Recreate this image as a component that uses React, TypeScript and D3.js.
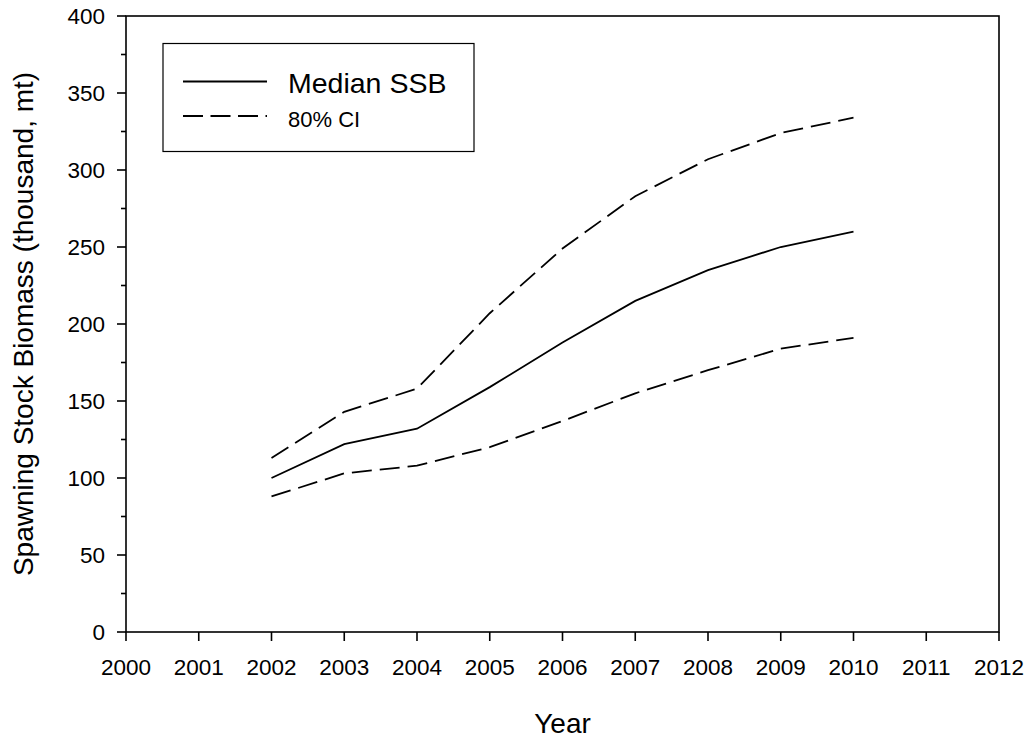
import React, { useEffect, useRef } from 'react';
import * as d3 from 'd3';

const years = [2002, 2003, 2004, 2005, 2006, 2007, 2008, 2009, 2010];
const medianSSB = [100, 122, 132, 159, 188, 215, 235, 250, 260];
const upperCI = [113, 143, 158, 207, 249, 283, 307, 324, 334];
const lowerCI = [88, 103, 108, 120, 137, 155, 170, 184, 191];
const xTicks = d3.range(2000, 2013);
const yTicks = [0, 50, 100, 150, 200, 250, 300, 350, 400];
const yMinorTicks = [25, 75, 125, 175, 225, 275, 325, 375];

const FONT = '"Liberation Sans", Arial, Helvetica, sans-serif';

const App: React.FC = () => {
	const svgRef = useRef<SVGSVGElement | null>(null);

	useEffect(() => {
		if (svgRef.current == null) return;

		const width = 1031;
		const height = 741;
		const margin = { top: 16, right: 32, bottom: 109, left: 126 };
		const innerWidth = width - margin.left - margin.right;
		const innerHeight = height - margin.top - margin.bottom;

		const xScale = d3.scaleLinear().domain([2000, 2012]).range([0, innerWidth]);
		const yScale = d3.scaleLinear().domain([0, 400]).range([innerHeight, 0]);

		const svg = d3.select(svgRef.current);
		svg.selectAll('*').remove();
		svg.attr('width', width).attr('height', height);

		svg.append('rect').attr('width', width).attr('height', height).attr('fill', '#fff');

		const g = svg.append('g').attr('transform', `translate(${margin.left},${margin.top})`);

		// frame
		g.append('rect')
			.attr('width', innerWidth)
			.attr('height', innerHeight)
			.attr('fill', 'none')
			.attr('stroke', '#000')
			.attr('stroke-width', 1.6);

		// x ticks + labels
		xTicks.forEach(t => {
			g.append('line')
				.attr('x1', xScale(t)).attr('x2', xScale(t))
				.attr('y1', innerHeight).attr('y2', innerHeight + 9)
				.attr('stroke', '#000').attr('stroke-width', 1.6);
			g.append('text')
				.attr('x', xScale(t))
				.attr('y', innerHeight + 43)
				.attr('text-anchor', 'middle')
				.attr('font-family', FONT)
				.attr('font-size', 22.5)
				.text(t);
		});

		// y ticks + labels
		yTicks.forEach(t => {
			g.append('line')
				.attr('x1', -9).attr('x2', 0)
				.attr('y1', yScale(t)).attr('y2', yScale(t))
				.attr('stroke', '#000').attr('stroke-width', 1.6);
			g.append('text')
				.attr('x', -21)
				.attr('y', yScale(t) + 8)
				.attr('text-anchor', 'end')
				.attr('font-family', FONT)
				.attr('font-size', 22.5)
				.text(t);
		});
		yMinorTicks.forEach(t => {
			g.append('line')
				.attr('x1', -5).attr('x2', 0)
				.attr('y1', yScale(t)).attr('y2', yScale(t))
				.attr('stroke', '#000').attr('stroke-width', 1.6);
		});

		// axis titles
		svg.append('text')
			.attr('x', margin.left + innerWidth / 2)
			.attr('y', 733)
			.attr('text-anchor', 'middle')
			.attr('font-family', FONT)
			.attr('font-size', 28)
			.text('Year');

		svg.append('text')
			.attr('transform', `translate(33,${margin.top + innerHeight / 2}) rotate(-90)`)
			.attr('text-anchor', 'middle')
			.attr('font-family', FONT)
			.attr('font-size', 28)
			.text('Spawning Stock Biomass (thousand, mt)');

		const line = d3.line<number>()
			.x((_, i) => xScale(years[i]))
			.y(d => yScale(d));

		g.append('path')
			.datum(upperCI)
			.attr('fill', 'none')
			.attr('stroke', '#000')
			.attr('stroke-width', 1.8)
			.attr('stroke-dasharray', '20,8')
			.attr('d', line);

		g.append('path')
			.datum(lowerCI)
			.attr('fill', 'none')
			.attr('stroke', '#000')
			.attr('stroke-width', 1.8)
			.attr('stroke-dasharray', '20,8')
			.attr('d', line);

		g.append('path')
			.datum(medianSSB)
			.attr('fill', 'none')
			.attr('stroke', '#000')
			.attr('stroke-width', 1.8)
			.attr('d', line);

		// legend
		const lg = svg.append('g');
		lg.append('rect')
			.attr('x', 163).attr('y', 43.5)
			.attr('width', 311).attr('height', 108)
			.attr('fill', '#fff')
			.attr('stroke', '#000')
			.attr('stroke-width', 1.2);
		lg.append('line')
			.attr('x1', 183).attr('x2', 267)
			.attr('y1', 81.5).attr('y2', 81.5)
			.attr('stroke', '#000').attr('stroke-width', 1.8);
		lg.append('line')
			.attr('x1', 183).attr('x2', 267)
			.attr('y1', 116).attr('y2', 116)
			.attr('stroke', '#000').attr('stroke-width', 1.8)
			.attr('stroke-dasharray', '20,7.5');
		lg.append('text')
			.attr('x', 288).attr('y', 93)
			.attr('font-family', FONT)
			.attr('font-size', 28.5)
			.text('Median SSB');
		lg.append('text')
			.attr('x', 288).attr('y', 127)
			.attr('font-family', FONT)
			.attr('font-size', 22)
			.text('80% CI');
	}, []);

	return (
		<svg ref={svgRef} style={{ position: 'absolute', left: 0, top: 0 }}></svg>
	);
};

export default App;
